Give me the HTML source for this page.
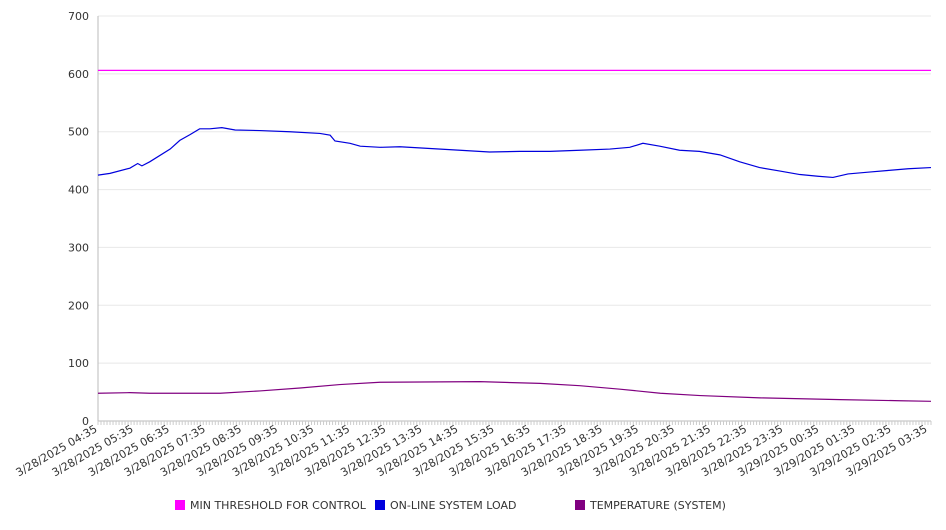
<!DOCTYPE html>
<html><head><meta charset="utf-8"><style>
body{margin:0;background:#fff;font-family:"DejaVu Sans","Liberation Sans",sans-serif}
svg text{font-family:"DejaVu Sans","Liberation Sans",sans-serif;fill:#333}
</style></head><body>
<svg id="chart" width="946" height="526" xmlns="http://www.w3.org/2000/svg"></svg>
<script>
const yTicks=[0,100,200,300,400,500,600,700];
const xTickLabels=["3/28/2025 04:35","3/28/2025 05:35","3/28/2025 06:35","3/28/2025 07:35","3/28/2025 08:35","3/28/2025 09:35","3/28/2025 10:35","3/28/2025 11:35","3/28/2025 12:35","3/28/2025 13:35","3/28/2025 14:35","3/28/2025 15:35","3/28/2025 16:35","3/28/2025 17:35","3/28/2025 18:35","3/28/2025 19:35","3/28/2025 20:35","3/28/2025 21:35","3/28/2025 22:35","3/28/2025 23:35","3/29/2025 00:35","3/29/2025 01:35","3/29/2025 02:35","3/29/2025 03:35"];
const thresholdMinutes=[0,1385];
const thresholdValues=[606,606];
const loadMinutes=[0,20,53,66,73,86,120,136,153,169,186,206,228,269,319,369,386,394,419,436,469,502,552,602,651,701,751,801,851,884,906,934,967,1000,1034,1067,1100,1134,1167,1197,1222,1247,1280,1313,1347,1385];
const loadValues=[425,428,437,445,441,448,470,485,495,505,505,507,503,502,500,497,494,484,480,475,473,474,471,468,465,466,466,468,470,473,480,475,468,466,460,448,438,432,426,423,421,427,430,433,436,438];
const tempMinutes=[0,53,86,203,269,336,402,469,635,735,801,868,935,1001,1101,1234,1334,1385];
const tempValues=[48,49,48,48,52,57,63,67,68,65,61,55,48,44,40,37,35,34];
const series=[
 {name:"MIN THRESHOLD FOR CONTROL",color:"#ff00ff",m:thresholdMinutes,v:thresholdValues},
 {name:"ON-LINE SYSTEM LOAD",color:"#0000dd",m:loadMinutes,v:loadValues},
 {name:"TEMPERATURE (SYSTEM)",color:"#800080",m:tempMinutes,v:tempValues}];
const X0=98,X1=931,Y0=421,Y1=16,MAXM=1385,MAXV=700;
const xs=m=>X0+m/MAXM*(X1-X0);
const ys=v=>Y0-v/MAXV*(Y0-Y1);
const svg=document.getElementById('chart'),NS="http://www.w3.org/2000/svg";
function mk(t,a,p){const e=document.createElementNS(NS,t);for(const k in a)e.setAttribute(k,a[k]);(p||svg).appendChild(e);return e;}
yTicks.forEach(t=>{
 const g=mk('line',{x1:X0,x2:X1,y1:ys(t),y2:ys(t),stroke:t===0?'#bbb':'#e8e8e8','stroke-width':1});
 
 
 const l=mk('text',{x:89,y:ys(t)+4,'text-anchor':'end','font-size':11});l.textContent=t;
 
 
});
const ax=mk('line',{x1:X0,x2:X0,y1:Y1,y2:Y0,stroke:'#bbb'});


for(let m=0;m<=MAXM;m+=5){const t=mk('line',{x1:xs(m),x2:xs(m),y1:Y0,y2:Y0+4,stroke:'#ccc'});
 
 }
xTickLabels.forEach((s,i)=>{
 const x=xs(i*60);
 const t=mk('text',{x:x,y:Y0+10,'text-anchor':'end','font-size':11,transform:`rotate(-30 ${x} ${Y0+10})`});t.textContent=s;
 
 
});
series.forEach(s=>{
 const p=mk('polyline',{points:s.m.map((m,i)=>xs(m)+','+ys(s.v[i])).join(' '),fill:'none',stroke:s.color,'stroke-width':1.2});
 
 
});
const lx=[175,375,575];
series.forEach((s,i)=>{
 const r=mk('rect',{x:lx[i],y:500,width:10,height:10,fill:s.color});
 
 
 const t=mk('text',{x:lx[i]+15,y:509,'font-size':11});t.textContent=s.name;
 
 
});
</script>
</body></html>
